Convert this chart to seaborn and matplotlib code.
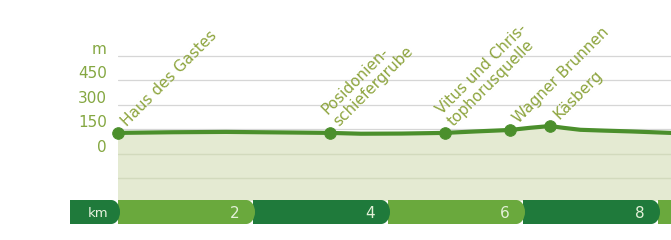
import numpy as np
import pandas as pd
import seaborn as sns
import matplotlib.pyplot as plt
from matplotlib.patches import Rectangle, Ellipse
from matplotlib.transforms import ScaledTranslation

# elevation profile (km, m)
profile_km = [0, 0.8, 1.6, 2.4, 3.14, 3.6, 4.2, 4.84, 5.3, 5.81, 6.1, 6.4, 6.6, 6.85, 7.2, 7.6, 8.19]
profile_m = [129, 133, 135, 132, 129, 124, 125, 129, 138, 147, 160, 171, 160, 148, 143, 138, 129]

# named stops along the way
stop_names = ["Haus des Gastes", "Posidonien-\nschiefergrube", "Vitus und Chris-\ntophorusquelle",
              "Wagner Brunnen", "Käsberg"]
stop_km = [0, 3.14, 4.84, 5.81, 6.4]
stop_m = [129, 129, 129, 147, 171]

# y axis
y_ticks = [0, 150, 300, 450, 600]
y_labels = ["0", "150", "300", "450", "m"]

# km band
band_labels = ["km", "2", "4", "6", "8", ""]
band_ends = [0, 2, 4, 6, 8, 10]

line_col = "#4b8f2c"
text_col = "#8ea53f"
tick_col = "#84a741"
fill_col = "#e4ead2"
dark_band = "#1f7a3b"
light_band = "#6aa93d"

sns.set_style("white")
plt.rcParams['font.family'] = ['DejaVu Sans']

fig = plt.figure(figsize=(6.71, 2.40), dpi=100)
ax = fig.add_axes([118 / 671, 40 / 240, 553 / 671, 160 / 240])
band = fig.add_axes([70 / 671, 16 / 240, 601 / 671, 24 / 240])

df = pd.DataFrame({"km": profile_km, "m": profile_m})
stops = pd.DataFrame({"km": stop_km, "m": stop_m, "name": stop_names})

y_bottom, y_top = -282, 698
ax.set_xlim(0, 8.193)
ax.set_ylim(y_bottom, y_top)

# fill under the profile
ax.fill_between(df["km"], df["m"], y_bottom, color=fill_col, zorder=1)

# grid lines
for v in [600, 450, 300, 150]:
    ax.axhline(v, color="#d6d6d6", lw=0.9, zorder=0)
for v in [0, -150]:
    ax.axhline(v, color="#d2dabd", lw=1.0, zorder=1.5)

sns.lineplot(data=df, x="km", y="m", color=line_col, lw=3, ax=ax, zorder=3)
sns.scatterplot(data=stops, x="km", y="m", color=line_col, s=70, edgecolor=line_col,
                ax=ax, zorder=4, clip_on=False)

for _, r in stops.iterrows():
    ax.annotate(r["name"], xy=(r["km"], r["m"]), xytext=(8, 3), textcoords="offset points",
                rotation=45, rotation_mode="anchor", ha="left", va="bottom",
                color=text_col, fontsize=11, linespacing=1.1, annotation_clip=False)

ax.set_yticks(y_ticks)
ax.set_yticklabels(y_labels)
ax.tick_params(axis="y", length=0, pad=8, labelsize=11, labelcolor=tick_col)
shift = ScaledTranslation(0, 0.08, fig.dpi_scale_trans)
for lab in ax.get_yticklabels():
    lab.set_transform(lab.get_transform() + shift)
ax.set_xticks([])
ax.set_xlabel("")
ax.set_ylabel("")
sns.despine(ax=ax, left=True, bottom=True)

# km band: drawn right to left so each rounded end lies over the next segment
band.set_xlim(-0.711, 8.193)
band.set_ylim(0, 1)
starts = [-0.711] + band_ends[:-1]
for i in reversed(range(len(band_ends))):
    col = dark_band if i % 2 == 0 else light_band
    s, e = starts[i], band_ends[i]
    band.add_patch(Rectangle((s, 0), e - s - 0.1, 1, color=col, lw=0))
    band.add_patch(Ellipse((e - 0.1, 0.5), 0.26, 1, color=col, lw=0))
    if band_labels[i] == "km":
        band.text(-0.3, 0.45, "km", ha="center", va="center", color="#e8f2e0", fontsize=9.5)
    elif band_labels[i]:
        band.text(e - 0.2, 0.45, band_labels[i], ha="right", va="center", color="#e3f0d8",
                  fontsize=11)
band.axis("off")

fig.savefig("out.png", dpi=100)
